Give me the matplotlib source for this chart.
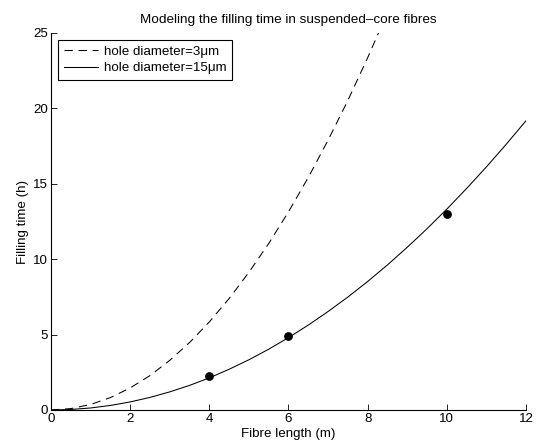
import matplotlib
matplotlib.use("Agg")
import matplotlib.pyplot as plt

plt.rcParams['font.family'] = ['Liberation Sans', 'DejaVu Sans']
plt.rcParams['font.size'] = 9.6

# fibre length (m) and filling time (h)
length = [0, 0.5, 1, 1.5, 2, 2.5, 3, 3.5, 4, 4.5, 5, 5.5, 6, 6.5, 7, 7.5,
          8, 8.5, 9, 9.5, 10, 10.5, 11, 11.5, 12]
time_15um = [0, 0.033, 0.133, 0.300, 0.533, 0.833, 1.20, 1.63, 2.13, 2.70,
             3.33, 4.03, 4.80, 5.63, 6.53, 7.49, 8.52, 9.62, 10.79, 12.02,
             13.32, 14.69, 16.12, 17.62, 19.18]
length_3um = [0, 0.5, 1, 1.5, 2, 2.5, 3, 3.5, 4, 4.5, 5, 5.5, 6, 6.5, 7,
              7.5, 8, 8.5]
time_3um = [0, 0.091, 0.365, 0.821, 1.46, 2.28, 3.29, 4.47, 5.84, 7.39,
            9.13, 11.04, 13.14, 15.42, 17.89, 20.53, 23.36, 26.37]

# measured points
meas_length = [4, 6, 10]
meas_time = [2.25, 4.91, 13.02]

fig = plt.figure(figsize=(5.39, 4.45), dpi=100)
ax = fig.add_axes([0.0946, 0.0787, 0.8813, 0.8472])

ax.plot(length_3um, time_3um, color='black', lw=0.75, ls=(0, (8, 5.5)),
        label='hole diameter=3\u03bcm')
ax.plot(length, time_15um, color='black', lw=0.75,
        label='hole diameter=15\u03bcm')
ax.plot(meas_length, meas_time, 'o', color='black', ms=5.3)

ax.set_xlim(0, 12)
ax.set_ylim(0, 25)
ax.set_xticks(range(0, 13, 2))
ax.set_yticks(range(0, 26, 5))
ax.spines['top'].set_visible(False)
ax.spines['right'].set_visible(False)
ax.tick_params(direction='in', length=4, width=0.6, pad=2)
for s in ('left', 'bottom'):
    ax.spines[s].set_linewidth(0.8)

ax.set_xlabel('Fibre length (m)', labelpad=2)
ax.set_ylabel('Filling time (h)', labelpad=3)
ax.set_title('Modeling the filling time in suspended\u2013core fibres',
             fontsize=9.7, pad=7)

leg = ax.legend(loc='upper left', fancybox=False, edgecolor='black',
                framealpha=1, handlelength=2.6, handletextpad=0.45,
                borderaxespad=0.55, borderpad=0.4, labelspacing=0.3)
leg.get_frame().set_linewidth(0.8)

fig.savefig('out.png', dpi=100)
